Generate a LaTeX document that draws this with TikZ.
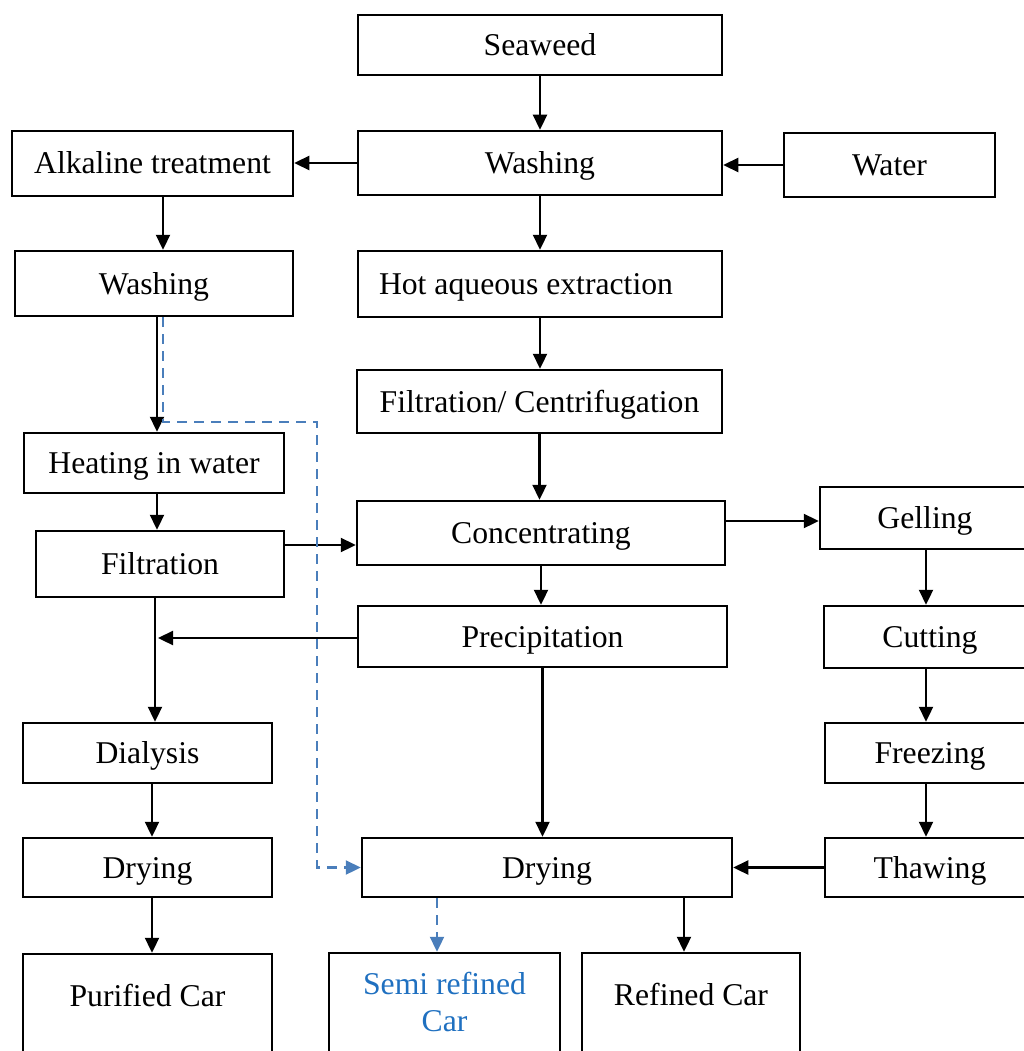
\documentclass[tikz,border=0pt]{standalone}
\usepackage{fontspec}
\setmainfont{Liberation Serif}
\usetikzlibrary{arrows.meta}
\definecolor{dashblue}{RGB}{74,126,187}
\definecolor{textblue}{RGB}{31,112,192}
\newcommand{\bx}[6]{\node[box, minimum width={(#4-#2)*1pt}, minimum height={(#5-#3)*1pt}] (#1) at ({(#2+#4)/2},{(#3+#5)/2}) {#6};}
\begin{document}
\begin{tikzpicture}[x=1pt,y=-1pt,
  box/.style={draw, line width=2.5pt, inner sep=0pt, text height=24pt, text depth=3pt, font=\fontsize{31.7}{37}\selectfont},
  lbl/.style={inner sep=0pt, font=\fontsize{31.7}{37}\selectfont},
  arr/.style={line width=2.3pt, -{Triangle[length=15pt,width=14pt]}},
  dsh/.style={draw=dashblue, line width=2.3pt, dash pattern=on 10pt off 7pt, -{Triangle[length=15pt,width=14pt]}}]
\useasboundingbox (0,0) rectangle (1024,1051);
\clip (0,0) rectangle (1024,1051);
% boxes
\bx{sea}{358}{15}{722}{75}{Seaweed}
\bx{washC}{358}{131}{722}{195}{Washing}
\bx{water}{784}{133}{995}{197}{Water}
\bx{alk}{12}{131}{293}{196}{Alkaline treatment}
\bx{washL}{15}{251}{293}{316}{Washing}
\node[box, minimum width=364pt, minimum height=66pt, text width=322pt, align=flush left] (hot) at (540,284) {Hot aqueous extraction};
\bx{filtC}{357}{370}{722}{433}{Filtration/ Centrifugation}
\bx{heat}{24}{433}{284}{493}{Heating in water}
\bx{filt}{36}{531}{284}{597}{Filtration}
\bx{conc}{357}{501}{725}{565}{Concentrating}
\bx{gel}{820}{487}{1030}{549}{Gelling}
\bx{prec}{358}{606}{727}{667}{Precipitation}
\bx{cut}{824}{606}{1036}{668}{Cutting}
\bx{dial}{23}{723}{272}{783}{Dialysis}
\bx{frz}{825}{723}{1035}{783}{Freezing}
\bx{dryL}{23}{838}{272}{897}{Drying}
\bx{dryC}{362}{838}{732}{897}{Drying}
\bx{thaw}{825}{838}{1035}{897}{Thawing}
\bx{pur}{23}{954}{272}{1070}{}
\bx{semi}{329}{953}{560}{1070}{}
\bx{ref}{582}{953}{800}{1070}{}
\node[lbl, anchor=base] (purT) at (147.5,1006.5) {Purified Car};
\node[lbl, text=textblue, align=center] (semiT) at (444.5,1002) {Semi refined\\Car};
\node[lbl, anchor=base] (refT) at (691,1005.5) {Refined Car};
% helper coordinates
\coordinate (xa) at (163,0);
\coordinate (xb) at (157,0);
\coordinate (yc) at (0,545);
\coordinate (yd) at (0,521);
\coordinate (jn) at (155,638);
\coordinate (xe) at (926,0);
\coordinate (xf) at (152,0);
\coordinate (xg) at (684,0);
\coordinate (xh) at (437,0);
\coordinate (dturn) at (317,422);
% arrows
\draw[arr] (sea.south) -- (washC.north);
\draw[arr] (washC.west) -- (washC.west -| alk.east);
\draw[arr] (water.west) -- (water.west -| washC.east);
\draw[arr] (alk.south -| xa) -- (washL.north -| xa);
\draw[arr] (washC.south) -- (hot.north);
\draw[arr] (hot.south) -- (hot.south |- filtC.north);
\draw[arr] (filtC.south) -- (filtC.south |- conc.north);
\draw[arr] (washL.south -| xb) -- (heat.north -| xb);
\draw[arr] (heat.south -| xb) -- (filt.north -| xb);
\draw[arr] (filt.east |- yc) -- (conc.west |- yc);
\draw[arr] (conc.east |- yd) -- (gel.west |- yd);
\draw[arr] (conc.south) -- (conc.south |- prec.north);
\draw[arr] (filt.south -| jn) -- (dial.north -| jn);
\draw[arr] (prec.west |- jn) -- ([xshift=3pt]jn);
\draw[arr] (prec.south) -- (prec.south |- dryC.north);
\draw[arr] (gel.south -| xe) -- (cut.north -| xe);
\draw[arr] (cut.south -| xe) -- (frz.north -| xe);
\draw[arr] (frz.south -| xe) -- (thaw.north -| xe);
\draw[arr] (thaw.west) -- (thaw.west -| dryC.east);
\draw[arr] (dial.south -| xf) -- (dryL.north -| xf);
\draw[arr] (dryL.south -| xf) -- (pur.north -| xf);
\draw[arr] (dryC.south -| xg) -- (ref.north -| xg);
\draw[dsh] (dryC.south -| xh) -- (semi.north -| xh);
\draw[dsh] (washL.south -| xa) |- (dturn) |- (dryC.west);
\end{tikzpicture}
\end{document}
